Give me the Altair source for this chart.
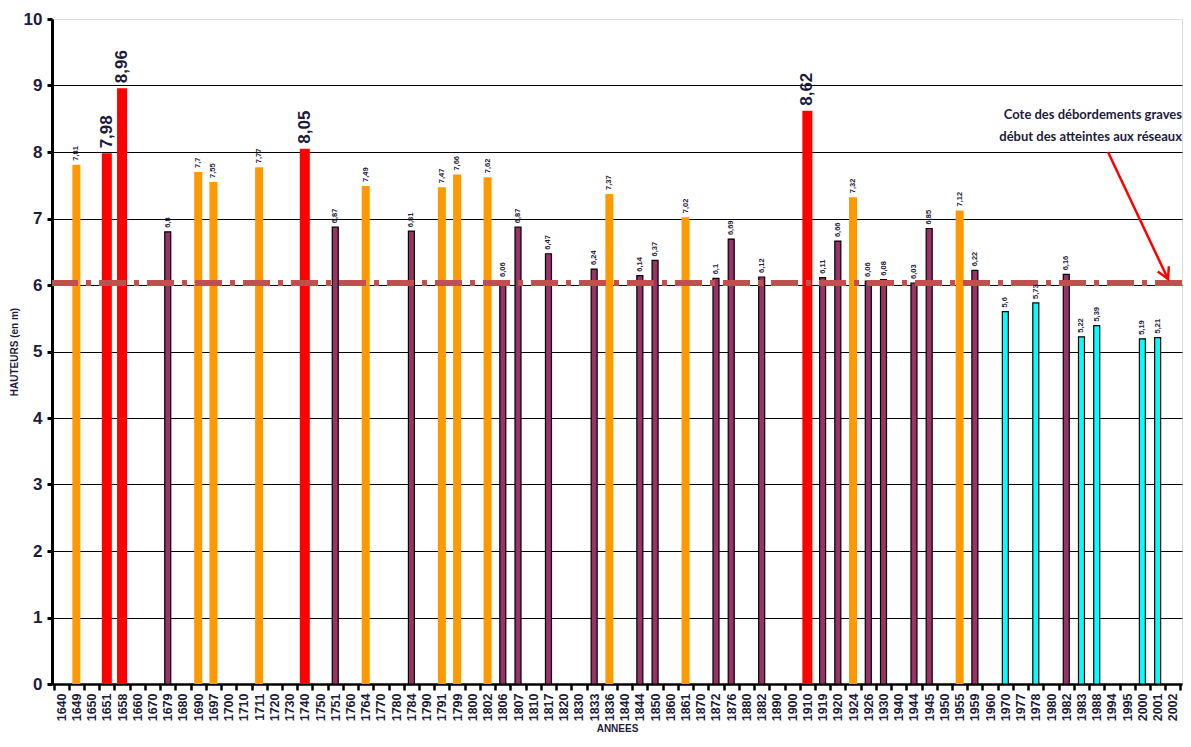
import altair as alt
import pandas as pd

# Axis categories (years shown on the x axis)
categories = ["1640", "1649", "1650", "1651", "1658", "1660", "1670", "1679", "1680", "1690",
              "1697", "1700", "1710", "1711", "1720", "1730", "1740", "1750", "1751", "1760",
              "1764", "1770", "1780", "1784", "1790", "1791", "1799", "1800", "1802", "1806",
              "1807", "1810", "1817", "1820", "1830", "1833", "1836", "1840", "1844", "1850",
              "1860", "1861", "1870", "1872", "1876", "1880", "1882", "1890", "1900", "1910",
              "1919", "1920", "1924", "1926", "1930", "1940", "1944", "1945", "1950", "1955",
              "1959", "1960", "1970", "1977", "1978", "1980", "1982", "1983", "1988", "1994",
              "1995", "2000", "2001", "2002"]

# Flood years with heights (m)
flood_years = ["1649", "1651", "1658", "1679", "1690", "1697", "1711", "1740", "1751", "1764",
               "1784", "1791", "1799", "1802", "1806", "1807", "1817", "1833", "1836", "1844",
               "1850", "1861", "1872", "1876", "1882", "1910", "1919", "1920", "1924", "1926",
               "1930", "1944", "1945", "1955", "1959", "1970", "1978", "1982", "1983", "1988",
               "2000", "2001"]
heights = [7.81, 7.98, 8.96, 6.8, 7.7, 7.55, 7.77, 8.05, 6.87, 7.49,
           6.81, 7.47, 7.66, 7.62, 6.06, 6.87, 6.47, 6.24, 7.37, 6.14,
           6.37, 7.02, 6.1, 6.69, 6.12, 8.62, 6.11, 6.66, 7.32, 6.06,
           6.08, 6.03, 6.85, 7.12, 6.22, 5.6, 5.73, 6.16, 5.22, 5.39,
           5.19, 5.21]
# R = rouge, O = orange, B = bordeaux, C = cyan
classes = ["O", "R", "R", "B", "O", "O", "O", "R", "B", "O",
           "B", "O", "O", "O", "B", "B", "B", "B", "O", "B",
           "B", "O", "B", "B", "B", "R", "B", "B", "O", "B",
           "B", "B", "B", "O", "B", "C", "C", "B", "C", "C",
           "C", "C"]

cote_value = [6.03]
annotation_lines = ["Cote des débordements graves", "début des atteintes aux réseaux"]
annotation_heights = [8.56, 8.22]
arrow_start = [8.0]
arrow_end = [6.09]

df = pd.DataFrame({
    "annee": flood_years,
    "hauteur": heights,
    "cls": classes,
    "label": [str(v).replace(".", ",") for v in heights],
})

label_color = "#1c1c3a"
FONT = "Liberation Sans"

xscale = alt.Scale(domain=categories, paddingInner=0, paddingOuter=0.1)
yscale = alt.Scale(domain=[0, 10], nice=False)

x_enc = alt.X("annee:N", scale=xscale, sort=categories,
              axis=alt.Axis(title="ANNEES", titleFontSize=10, titleFontWeight="bold",
                            titleColor=label_color, titlePadding=3, titleFont=FONT,
                            labelAngle=270, labelFontSize=12.5, labelFontWeight="bold",
                            labelColor=label_color, labelPadding=3, labelFont=FONT,
                            tickBand="extent", tickColor="black", tickWidth=2.5, tickSize=6,
                            domainColor="black", domainWidth=2.5, grid=False,
                            labelOverlap=False))
y_enc = alt.Y("hauteur:Q", scale=yscale,
              axis=alt.Axis(values=list(range(0, 11)), format="d", title="HAUTEURS (en m)",
                            titleFontSize=10, titleFontWeight="bold", titleColor=label_color,
                            titlePadding=4, titleFont=FONT,
                            labelFontSize=17, labelFontWeight="bold", labelColor=label_color,
                            labelPadding=5, labelFont=FONT,
                            domainColor="black", domainWidth=3,
                            tickColor="black", tickWidth=3, tickSize=5,
                            grid=True, gridColor="black", gridWidth=1.2,
                            gridOpacity={"condition": {"test": "datum.value === 10", "value": 0},
                                         "value": 1}))

base = alt.Chart(df)

styles = {
    "R": dict(size=10, color="#FF0000"),
    "O": dict(size=8, color="#FF9900"),
    "B": dict(size=6, color="#993366", stroke="black", strokeWidth=1.2),
    "C": dict(size=6, color="#00FFFF", stroke="black", strokeWidth=1.2),
}

bar_layers = []
for code, st in styles.items():
    bar_layers.append(
        base.transform_filter(alt.datum.cls == code)
        .mark_bar(**st)
        .encode(x=x_enc, y=y_enc)
    )

rule_df = pd.DataFrame({"hauteur": cote_value})
cote_rule = alt.Chart(rule_df).mark_rule(
    color="#C0504D", strokeWidth=6, strokeDash=[27, 8, 5, 8]
).encode(y=alt.Y("hauteur:Q", scale=yscale))

small_labels = base.transform_filter(alt.datum.cls != "R").mark_text(
    angle=270, align="left", baseline="middle", dx=4, fontSize=7.5,
    fontWeight="bold", color=label_color, font=FONT
).encode(x=x_enc, y=y_enc, text="label:N")

big_labels = base.transform_filter(alt.datum.cls == "R").mark_text(
    angle=270, align="left", baseline="middle", dx=5, fontSize=17,
    fontWeight="bold", color=label_color, font=FONT
).encode(x=x_enc, y=y_enc, text="label:N")

ann_df = pd.DataFrame({"hauteur": annotation_heights, "txt": annotation_lines})
ann_text = alt.Chart(ann_df).mark_text(
    align="right", baseline="middle", fontSize=13, fontWeight="bold",
    font="Lato", color=label_color
).encode(x=alt.value(1130), y=alt.Y("hauteur:Q", scale=yscale), text="txt:N")

arrow_df = pd.DataFrame({"hauteur": arrow_start, "fin": arrow_end})
arrow_line = alt.Chart(arrow_df).mark_rule(color="#FF0000", strokeWidth=2.5).encode(
    x=alt.value(1056), x2=alt.value(1116),
    y=alt.Y("hauteur:Q", scale=yscale), y2="fin:Q")

head_df = pd.DataFrame({"hauteur": arrow_end})
arrow_head = alt.Chart(head_df).mark_point(
    shape="M -0.55 -1 L 0 0 L 0.55 -1", angle=335, size=500, filled=False,
    stroke="#FF0000", strokeWidth=2.5, opacity=1
).encode(x=alt.value(1116), y=alt.Y("hauteur:Q", scale=yscale))

chart = alt.layer(*bar_layers, cote_rule, small_labels, big_labels,
                  ann_text, arrow_line, arrow_head).properties(
    width=1130, height=665,
    padding={"left": 44, "top": 11, "right": 1, "bottom": 55},
    autosize=alt.AutoSizeParams(type="none"),
    background="white",
).configure_view(stroke=None).configure(font=FONT)

chart.save("out.html", embed_options={"renderer": "svg", "actions": False})
